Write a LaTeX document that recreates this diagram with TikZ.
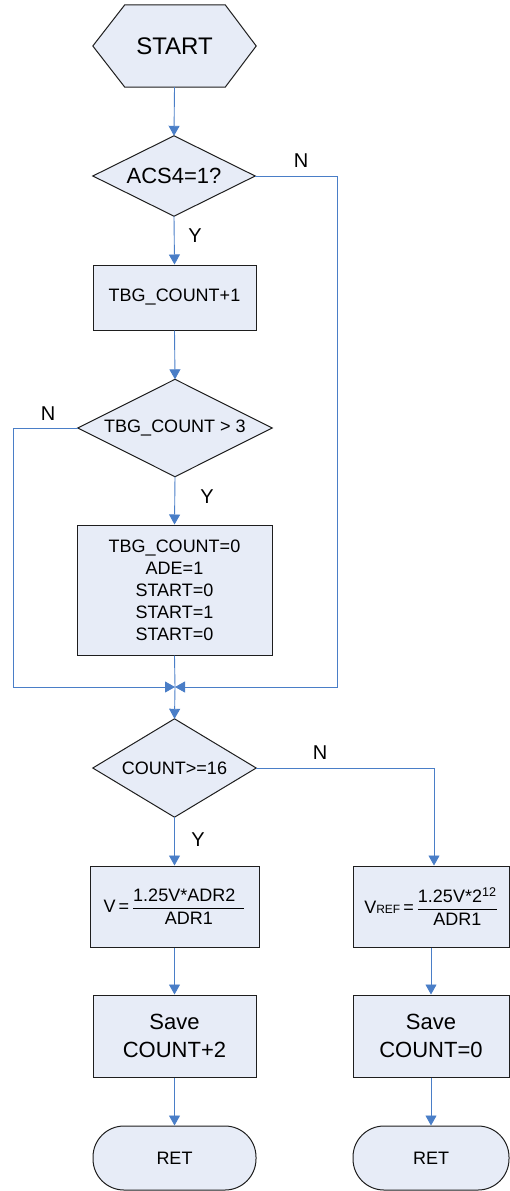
\documentclass[tikz,border=0pt]{standalone}
\usepackage{fontspec}
\setmainfont{Liberation Sans}
\usetikzlibrary{arrows.meta,backgrounds}
\definecolor{boxfill}{RGB}{231,236,247}
\definecolor{flowblue}{RGB}{74,126,199}
\definecolor{edge}{RGB}{30,30,30}
\newcommand{\fs}[1]{\fontsize{#1}{#1}\selectfont}
\tikzset{
  x=1pt, y=-1pt,
  shapebox/.style={fill=boxfill, draw=edge, line width=1pt},
  place/.style={draw=none, inner sep=0pt, align=center, font=\fs{18}},
  procbox/.style={shapebox, inner sep=0pt, align=center, font=\fs{18}},
  endbox/.style={shapebox, rounded corners=31pt, inner sep=0pt, align=center, font=\fs{18}},
  flow/.style={draw=flowblue, line width=0.9pt},
  flowarrow/.style={flow, -{Triangle[width=11pt,length=10pt]}},
  yn/.style={font=\fs{20}, inner sep=0pt}
}
\begin{document}
\begin{tikzpicture}
\useasboundingbox (0,0) rectangle (510,1191);

% placeholders for the hexagon and the three decisions
\node[place, font=\fs{24}, minimum width=163pt, minimum height=82pt] (start) at (174.5,46) {START};
\node[place, font=\fs{22}, minimum width=162pt, minimum height=80pt] (acs) at (174,176) {ACS4=1?};
\node[place, minimum width=194pt, minimum height=97pt] (tbg) at (175,428) {TBG\_COUNT > 3};
\node[place, minimum width=163pt, minimum height=98pt] (cnt) at (174.5,768) {COUNT>=16};

\begin{scope}[on background layer]
  \draw[shapebox] (start.west) -- ([xshift=32pt]start.north west) -- ([xshift=-31pt]start.north east)
    -- (start.east) -- ([xshift=-31pt]start.south east) -- ([xshift=32pt]start.south west) -- cycle;
  \draw[shapebox] (acs.west) -- (acs.north) -- (acs.east) -- (acs.south) -- cycle;
  \draw[shapebox] (tbg.west) -- (tbg.north) -- (tbg.east) -- (tbg.south) -- cycle;
  \draw[shapebox] (cnt.west) -- (cnt.north) -- (cnt.east) -- (cnt.south) -- cycle;
\end{scope}

% process boxes
\node[procbox, minimum width=163pt, minimum height=65pt] (inc) at (174.5,297.5) {TBG\_COUNT+1};
\node[procbox, minimum width=195pt, minimum height=130pt, font=\fontsize{18}{22}\selectfont] (reset) at (174.5,590)
  {TBG\_COUNT=0\\ADE=1\\START=0\\START=1\\START=0};
\node[procbox, minimum width=169pt, minimum height=81pt] (calcv) at (174.5,906.5)
  {V\,=\,$\displaystyle\frac{\mbox{1.25V*ADR2\hspace{9pt}}}{\mbox{ADR1}}$};
\node[procbox, minimum width=156pt, minimum height=81pt] (calcref) at (431,906.5)
  {V{\fs{12}REF}\,=\,$\displaystyle\frac{\mbox{1.25V*2\textsuperscript{12}}}{\mbox{ADR1}}$};
\node[procbox, minimum width=163pt, minimum height=82pt, font=\fontsize{22}{28}\selectfont] (save1) at (174.5,1036) {Save\\COUNT+2};
\node[procbox, minimum width=156pt, minimum height=82pt, font=\fontsize{22}{28}\selectfont] (save2) at (431,1036) {Save\\COUNT=0};

% terminators
\node[endbox, minimum width=163pt, minimum height=64pt] (ret1) at (174.5,1158) {RET};
\node[endbox, minimum width=156pt, minimum height=64pt] (ret2) at (431,1158) {RET};

% routing points
\coordinate (join) at (175,687);
\coordinate (railR) at (337,176);
\coordinate (railL) at (13,428);
\coordinate (branch) at (434,768);

% connectors
\draw[flowarrow] (start.south) -- (acs.north);
\draw[flowarrow] (acs.south) -- (inc.north);
\draw[flowarrow] (inc.south) -- (tbg.north);
\draw[flowarrow] (tbg.south) -- (reset.north);
\draw[flow] (reset.south) -- (join);
\draw[flowarrow] (acs.east) -- (railR) -- (railR |- join) -- (join);
\draw[flowarrow] (tbg.west) -- (railL) -- (railL |- join) -- (join);
\draw[flowarrow] (join) -- (cnt.north);
\draw[flowarrow] (cnt.south) -- (calcv.north);
\draw[flowarrow] (cnt.east) -- (branch) -- (branch |- calcref.north);
\draw[flowarrow] (calcv.south) -- (save1.north);
\draw[flowarrow] (calcref.south) -- (save2.north);
\draw[flowarrow] (save1.south) -- (ret1.north);
\draw[flowarrow] (save2.south) -- (ret2.north);

% branch labels
\node[yn] (n1) at (301,161) {N};
\node[yn] (y1) at (195,236) {Y};
\node[yn] (n2) at (48,414) {N};
\node[yn] (y2) at (207,497) {Y};
\node[yn] (n3) at (320,753) {N};
\node[yn] (y3) at (198,840) {Y};
\end{tikzpicture}
\end{document}
